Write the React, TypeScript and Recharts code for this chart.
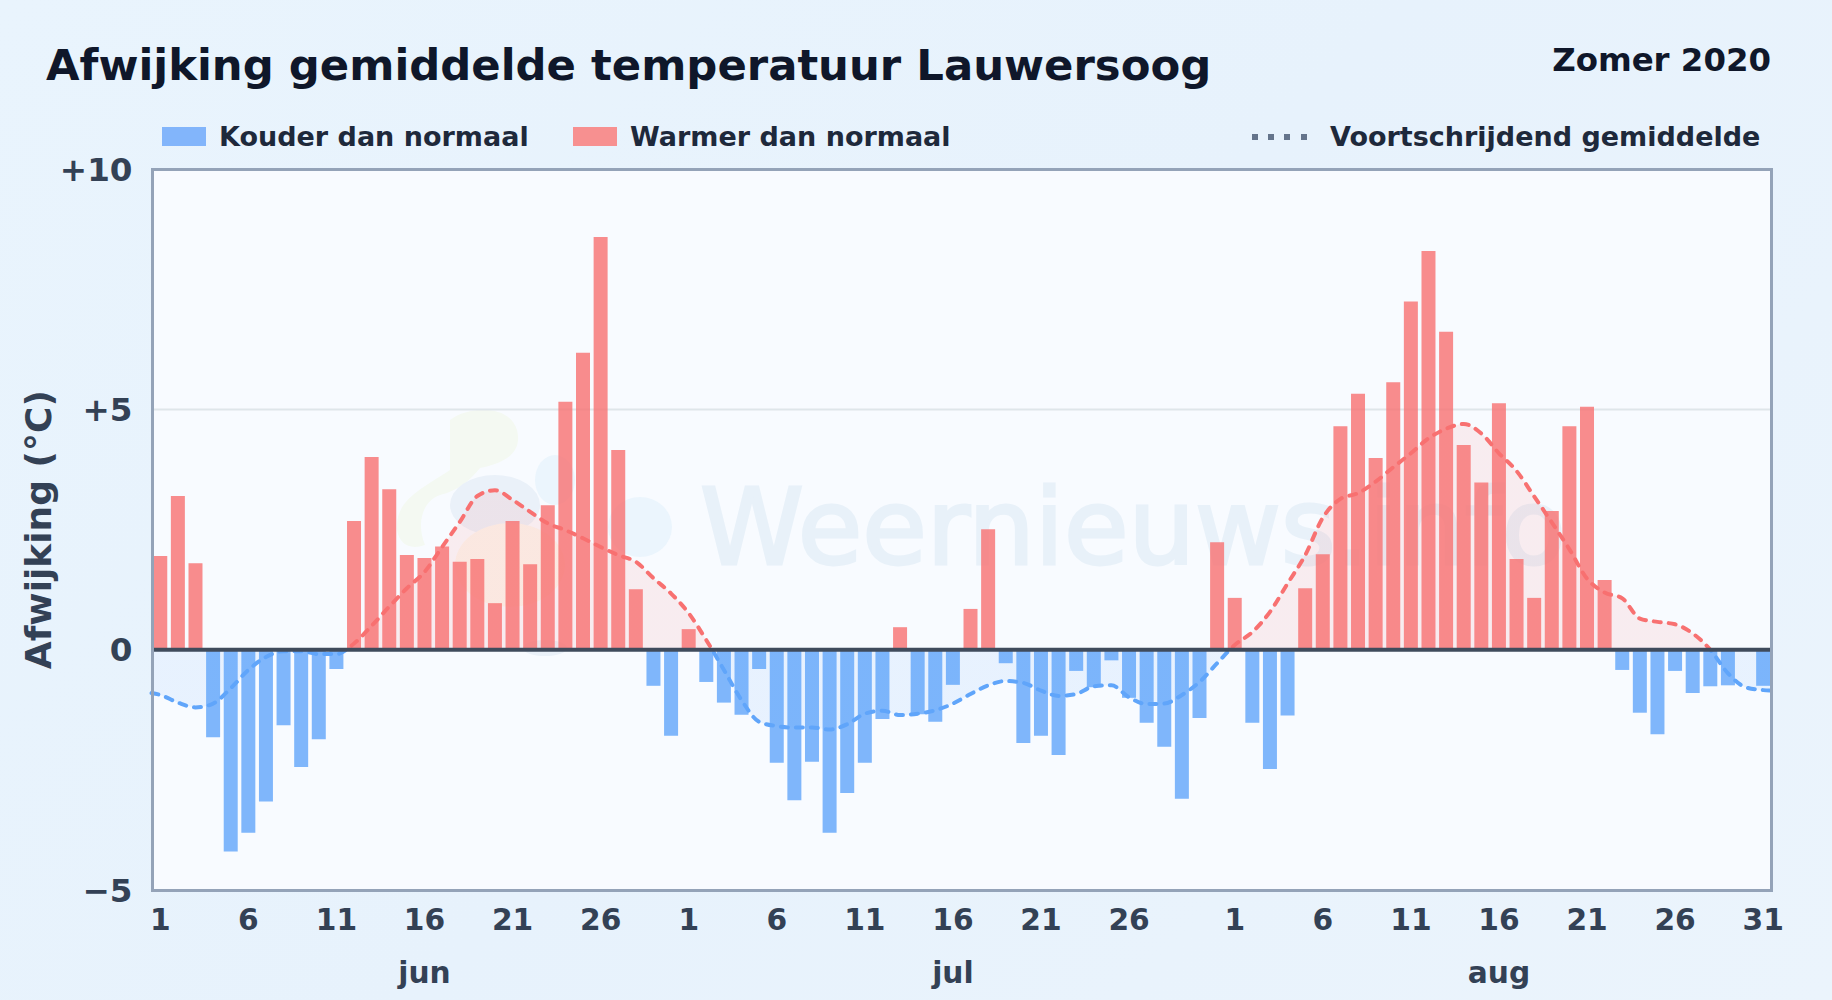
import React from 'react';
import { ComposedChart, Area, Bar, XAxis, YAxis, CartesianGrid, ReferenceLine } from 'recharts';

const monthNames = ['jun', 'jul', 'aug'];
const monthLengths = [30, 31, 31];
const dayTicks = [1, 6, 11, 16, 21, 26];
const monthLabelDay = 16;

const deviationJun = [1.95, 3.2, 1.8, -1.82, -4.2, -3.81, -3.16, -1.57, -2.44, -1.86, -0.4, 2.68, 4.01, 3.34, 1.97, 1.91, 2.15, 1.83, 1.89, 0.97, 2.68, 1.78, 3.01, 5.16, 6.18, 8.59, 4.16, 1.26, -0.75, -1.79];
const deviationJul = [0.43, -0.67, -1.1, -1.35, -0.4, -2.35, -3.13, -2.33, -3.81, -2.98, -2.35, -1.44, 0.47, -1.34, -1.5, -0.73, 0.85, 2.51, -0.28, -1.94, -1.79, -2.19, -0.44, -0.78, -0.22, -1.0, -1.52, -2.02, -3.1, -1.42, 2.24];
const deviationAug = [1.08, -1.52, -2.48, -1.37, 1.28, 1.99, 4.65, 5.33, 3.99, 5.57, 7.25, 8.3, 6.62, 4.26, 3.48, 5.13, 1.89, 1.08, 2.89, 4.65, 5.06, 1.45, -0.42, -1.31, -1.76, -0.44, -0.9, -0.76, -0.74, 0, -0.75];

const movingJun = [-0.94, -1.1, -1.2, -1.12, -0.8, -0.42, -0.15, -0.03, -0.03, -0.09, -0.09, 0.13, 0.5, 0.9, 1.28, 1.62, 2.14, 2.66, 3.2, 3.32, 3.12, 2.87, 2.63, 2.49, 2.32, 2.14, 1.97, 1.83, 1.49, 1.17];
const movingJul = [0.76, 0.2, -0.42, -1.05, -1.5, -1.59, -1.62, -1.62, -1.66, -1.55, -1.33, -1.27, -1.36, -1.33, -1.26, -1.12, -0.92, -0.74, -0.65, -0.69, -0.85, -0.96, -0.92, -0.76, -0.74, -0.99, -1.13, -1.12, -0.94, -0.67, -0.28];
const movingAug = [0.1, 0.37, 0.79, 1.38, 1.97, 2.75, 3.14, 3.26, 3.5, 3.8, 4.09, 4.4, 4.6, 4.7, 4.5, 4.09, 3.72, 3.19, 2.65, 2.09, 1.48, 1.19, 1.07, 0.65, 0.58, 0.53, 0.34, 0, -0.49, -0.78, -0.84];
const movingEdgeStart = -0.9;
const movingEdgeEnd = -0.85;

const deviations = [...deviationJun, ...deviationJul, ...deviationAug];
const moving = [...movingJun, ...movingJul, ...movingAug];

const dayLabels: { key: string; day: number; month: string }[] = [];
monthNames.forEach((month, m) => {
  for (let d = 1; d <= monthLengths[m]; d++) dayLabels.push({ key: `${month}-${d}`, day: d, month });
});

const rows = dayLabels.map((d, i) => ({
  key: d.key,
  cold: deviations[i] < 0 ? deviations[i] : null,
  warm: deviations[i] > 0 ? deviations[i] : null,
}));

const movingRows = [
  { pos: 0, ma: movingEdgeStart },
  ...moving.map((ma, i) => ({ pos: i + 0.5, ma })),
  { pos: moving.length, ma: movingEdgeEnd },
];

const tickKeys = dayLabels
  .filter((d) => dayTicks.includes(d.day) || d.key === 'aug-31')
  .map((d) => d.key);
const monthKeys = monthNames.map((m) => `${m}-${monthLabelDay}`);

const maMax = Math.max(...moving);
const maMin = Math.min(...moving);
const zeroOffset = `${(maMax / (maMax - maMin)) * 100}%`;

const FONT = '"DejaVu Sans", sans-serif';
const BLUE = '#60a5fa';
const RED = '#f87171';
const INK = '#334155';
const LEGEND_INK = '#1e293b';

const yTickText: Record<number, string> = { 10: '+10', 5: '+5', 0: '0', [-5]: '\u22125' };

const legendText: React.CSSProperties = {
  position: 'absolute',
  top: 120,
  fontFamily: FONT,
  fontWeight: 700,
  fontSize: 27,
  lineHeight: '34px',
  color: LEGEND_INK,
  whiteSpace: 'nowrap',
};

function Square({ left, color }: { left: number; color: string }) {
  return <div style={{ position: 'absolute', left, top: 127, width: 44, height: 19, background: color }} />;
}

export default function App() {
  return (
    <div
      style={{
        position: 'absolute',
        left: 0,
        top: 0,
        width: 1832,
        height: 1000,
        overflow: 'hidden',
        background: 'linear-gradient(135deg,#e9f4fd 0%,#e7f2fc 50%,#ebf4fc 100%)',
      }}
    >
      <div style={{ position: 'absolute', left: 46, top: 36, fontFamily: FONT, fontWeight: 700, fontSize: 43.35, lineHeight: '58px', color: '#0f172a', whiteSpace: 'nowrap' }}>
        Afwijking gemiddelde temperatuur Lauwersoog
      </div>
      <div style={{ position: 'absolute', right: 61, top: 39, fontFamily: FONT, fontWeight: 700, fontSize: 32.4, lineHeight: '42px', color: '#0f172a', whiteSpace: 'nowrap' }}>
        Zomer 2020
      </div>

      <Square left={162} color="#82b5fb" />
      <div style={{ ...legendText, left: 219 }}>Kouder dan normaal</div>
      <Square left={573} color="#f79090" />
      <div style={{ ...legendText, left: 630 }}>Warmer dan normaal</div>
      {[0, 1, 2, 3].map((i) => (
        <div key={i} style={{ position: 'absolute', left: 1252 + i * 16.2, top: 134, width: 6, height: 6, background: '#64748b' }} />
      ))}
      <div style={{ ...legendText, left: 1330 }}>Voortschrijdend gemiddelde</div>

      {/* plot background and watermark, behind the chart */}
      <div style={{ position: 'absolute', left: 152, top: 169, width: 1620, height: 721, background: '#f8fbff' }} />
      <svg width={1832} height={1000} style={{ position: 'absolute', left: 0, top: 0 }}>
        <path d="M450 420 C470 405 510 405 517 430 C522 450 510 462 480 468 C470 480 460 490 440 495 C425 500 415 520 425 545 C410 550 400 545 397 530 C395 500 420 490 450 470 Z" fill="#f4f9f2" />
        <ellipse cx={495} cy={505} rx={45} ry={30} fill="#eaf1f9" />
        <ellipse cx={510} cy={565} rx={55} ry={42} fill="#fbf6ee" />
        <ellipse cx={555} cy={480} rx={20} ry={25} fill="#ebf5fd" />
        <ellipse cx={640} cy={527} rx={32} ry={30} fill="#ebf5fd" />
        <ellipse cx={545} cy={648} rx={22} ry={8} fill="#eaf1f9" />
        <text x={700} y={564} fontFamily={FONT} fontSize={105} fill="#e8f1f9" stroke="#e8f1f9" strokeWidth={3}>Weernieuws.info</text>
      </svg>

      <div style={{ position: 'absolute', left: 0, top: 0 }}>
        <ComposedChart
          width={1832}
          height={1000}
          data={rows}
          margin={{ top: 169.3, right: 60, bottom: 0, left: 0 }}
          barCategoryGap="10%"
        >
          <defs>
            <linearGradient id="maStroke" x1="0" y1="0" x2="0" y2="1">
              <stop offset={zeroOffset} stopColor={RED} />
              <stop offset={zeroOffset} stopColor={BLUE} />
            </linearGradient>
            <linearGradient id="maFill" x1="0" y1="0" x2="0" y2="1">
              <stop offset={zeroOffset} stopColor={RED} stopOpacity={0.18} />
              <stop offset={zeroOffset} stopColor={BLUE} stopOpacity={0.18} />
            </linearGradient>
          </defs>
          <CartesianGrid vertical={false} stroke="#dfe6ea" strokeWidth={2} />
          <XAxis
            dataKey="key"
            xAxisId="days"
            height={32}
            ticks={tickKeys}
            interval={0}
            axisLine={false}
            tickLine={false}
            tickSize={0}
            tickMargin={19}
            tickFormatter={(k: string) => k.split('-')[1]}
            tick={{ fontFamily: FONT, fontWeight: 700, fontSize: 29.7, fill: INK }}
          />
          <XAxis
            dataKey="key"
            xAxisId="months"
            height={78}
            ticks={monthKeys}
            interval={0}
            axisLine={false}
            tickLine={false}
            tickSize={0}
            tickMargin={9.5}
            tickFormatter={(k: string) => k.split('-')[0]}
            tick={{ fontFamily: FONT, fontWeight: 700, fontSize: 29.7, fill: INK }}
          />
          <XAxis dataKey="pos" xAxisId="line" type="number" domain={[0, 92]} hide />
          <YAxis
            domain={[-5, 10]}
            ticks={[-5, 0, 5, 10]}
            width={151.5}
            axisLine={false}
            tickLine={false}
            tickSize={0}
            tickMargin={19}
            interval={0}
            tickFormatter={(v: number) => yTickText[v]}
            tick={{ fontFamily: FONT, fontWeight: 700, fontSize: 32.6, fill: INK }}
            label={{
              value: 'Afwijking (°C)',
              angle: -90,
              position: 'insideLeft',
              offset: 38,
              style: { fontFamily: FONT, fontWeight: 700, fontSize: 36, fill: INK, textAnchor: 'middle' },
            }}
          />
          <Area
            data={movingRows}
            xAxisId="line"
            dataKey="ma"
            type="monotone"
            baseValue={0}
            stroke="url(#maStroke)"
            strokeWidth={4}
            strokeDasharray="7 8"
            strokeLinecap="round"
            fill="url(#maFill)"
            dot={false}
            activeDot={false}
            isAnimationActive={false}
          />
          <Bar xAxisId="days" dataKey="cold" stackId="d" fill={BLUE} fillOpacity={0.8} isAnimationActive={false} />
          <Bar xAxisId="days" dataKey="warm" stackId="d" fill={RED} fillOpacity={0.8} isAnimationActive={false} />
          <ReferenceLine xAxisId="days" y={0} stroke="#3f4b5c" strokeWidth={4} />
        </ComposedChart>
      </div>

      {/* plot frame */}
      <div style={{ position: 'absolute', left: 151, top: 168, width: 1616, height: 717.5, border: '3px solid #94a3b8', pointerEvents: 'none' }} />
    </div>
  );
}
